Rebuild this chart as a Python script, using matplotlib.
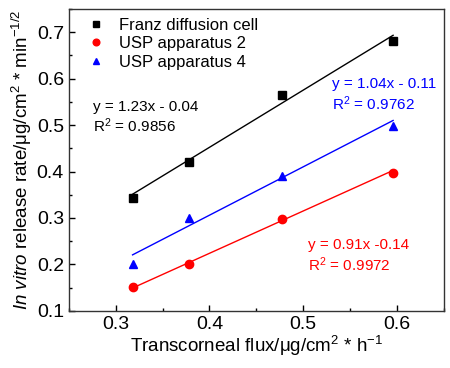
import numpy as np
import matplotlib
matplotlib.use('Agg')
import matplotlib.pyplot as plt

plt.rcParams['font.family'] = ['Liberation Sans', 'DejaVu Sans']
plt.rcParams['mathtext.fontset'] = 'custom'
plt.rcParams['mathtext.rm'] = 'Liberation Sans'
plt.rcParams['mathtext.it'] = 'Liberation Sans:italic'

# data
flux = [0.318, 0.378, 0.477, 0.596]
franz = [0.344, 0.420, 0.565, 0.680]
usp2 = [0.151, 0.200, 0.298, 0.397]
usp4 = [0.200, 0.300, 0.390, 0.498]

labels = ['Franz diffusion cell', 'USP apparatus 2', 'USP apparatus 4']
fits = [(1.23, -0.04), (0.91, -0.14), (1.04, -0.11)]
eq_texts = [('y = 1.23x - 0.04', '$\\mathregular{R^2}$ = 0.9856'),
            ('y = 0.91x -0.14', '$\\mathregular{R^2}$ = 0.9972'),
            ('y = 1.04x - 0.11', '$\\mathregular{R^2}$ = 0.9762')]

fig = plt.figure(figsize=(4.5, 3.68), dpi=100)
ax = fig.add_axes([0.153, 0.155, 0.833, 0.821])

series = [franz, usp2, usp4]
colors = ['black', 'red', 'blue']
markers = ['s', 'o', '^']
x = np.array(flux)
xl = np.array([flux[0], flux[-1]])
for ys, c, m, lab, (k, b) in zip(series, colors, markers, labels, fits):
    ax.plot(x, ys, m, color=c, markersize=6, label=lab, linestyle='none')
    ax.plot(xl, k * xl + b, '-', color=c, linewidth=1)

# equation annotations (axes fraction)
pos = [(0.064, 0.675, 0.613), (0.637, 0.219, 0.152), (0.701, 0.752, 0.685)]
for (t1, t2), c, (px, py1, py2) in zip(eq_texts, colors, pos):
    ax.text(px, py1, t1, color=c, fontsize=11, transform=ax.transAxes, va='center')
    ax.text(px, py2, t2, color=c, fontsize=11, transform=ax.transAxes, va='center')

ax.set_xlim(0.25, 0.65)
ax.set_ylim(0.1, 0.75)
ax.set_xticks([0.3, 0.4, 0.5, 0.6])
ax.set_yticks([0.1, 0.2, 0.3, 0.4, 0.5, 0.6, 0.7])
ax.set_xticks(np.arange(0.25, 0.651, 0.05), minor=True)
ax.set_yticks(np.arange(0.1, 0.751, 0.05), minor=True)
ax.tick_params(which='major', direction='in', length=4, labelsize=14, width=1)
ax.tick_params(which='minor', direction='in', length=2.5, width=1)
for sp in ax.spines.values():
    sp.set_color('#333333')
    sp.set_linewidth(1)

ax.set_xlabel('Transcorneal flux/\u03bcg/cm$^2$ * h$^{-1}$', fontsize=13.5, labelpad=1)
ax.set_ylabel('$\\it{In\\ vitro}$ release rate/\u03bcg/cm$^2$ * min$^{-1/2}$', fontsize=13.5, labelpad=2)

ax.legend(loc='upper left', bbox_to_anchor=(0.012, 1.0), frameon=False, fontsize=12,
          handletextpad=0.6, labelspacing=0.2, borderaxespad=0.15, handlelength=1.6,
          markerscale=0.8)

fig.savefig('out.png', dpi=100)
